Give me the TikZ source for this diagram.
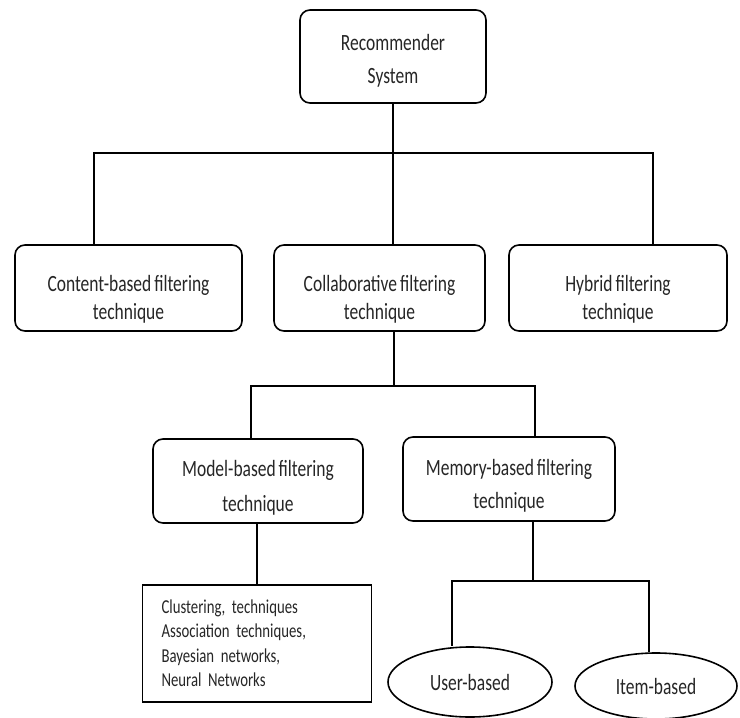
\documentclass[tikz,border=0pt]{standalone}
\usepackage{fontspec}
\setmainfont{Carlito}[FakeStretch=0.75,WordSpace=0.75]
\usetikzlibrary{shapes.geometric}
\frenchspacing
\newcommand{\topstrut}[1]{\rule{0pt}{#1pt}}
\newcommand{\botstrut}[1]{\rule[-#1pt]{0pt}{#1pt}}
\begin{document}
\begin{tikzpicture}[x=1pt,y=-1pt,
  box/.style={draw, line width=1.6pt, rounded corners=10pt, fill=white, inner sep=0pt, align=center, text=black!85},
  listbox/.style={draw, line width=1.6pt, fill=white, inner ysep=0pt, inner xsep=19pt, text width=191pt, align=left, font=\fontsize{19.7}{24.5}\selectfont, text=black!85},
  oval/.style={draw, ellipse, line width=1.6pt, fill=white, inner sep=0pt, font=\fontsize{23.3}{28}\selectfont, text=black!85},
  link/.style={line width=1.6pt}]
\useasboundingbox (0,0) rectangle (740,718);
\fill[white] (0,0) rectangle (740,718);

\node[box, minimum width=186pt, minimum height=93pt, font=\fontsize{23.3}{33}\selectfont] (rec) at (393,56.5) {\topstrut{30}Recommender\\System\botstrut{10}};
\node[box, minimum width=227pt, minimum height=86pt, font=\fontsize{23.3}{28}\selectfont] (content) at (128.5,288) {\topstrut{44}Content-based filtering\\technique\botstrut{10}};
\node[box, minimum width=211pt, minimum height=86pt, font=\fontsize{23.3}{28}\selectfont] (collab) at (379.5,288) {\topstrut{44}Collaborative filtering\\technique\botstrut{10}};
\node[box, minimum width=218pt, minimum height=86pt, font=\fontsize{23.3}{28}\selectfont] (hybrid) at (618,288) {\topstrut{44}Hybrid filtering\\technique\botstrut{10}};
\node[box, minimum width=210pt, minimum height=84pt, font=\fontsize{23.3}{35}\selectfont] (model) at (258,481) {\topstrut{35}Model-based filtering\\technique\botstrut{10}};
\node[box, minimum width=212pt, minimum height=84pt, font=\fontsize{23.3}{33}\selectfont] (memory) at (509,479) {\topstrut{35}Memory-based filtering\\technique\botstrut{10}};
\node[listbox, minimum width=229pt, minimum height=117pt] (list) at (257,643.5) {\topstrut{22.5}Clustering, techniques\\Association techniques,\\Bayesian networks,\\Neural Networks\botstrut{10}};
\node[oval, minimum width=164pt, minimum height=70pt] (user) at (470,682) {User-based};
\node[oval, minimum width=162pt, minimum height=66pt] (item) at (656,686) {Item-based};

\coordinate (c1) at (94,153);
\coordinate (c3) at (653,153);
\draw[link] (rec.south) -- (collab.north -| rec.south);
\draw[link] (content.north -| c1) -- (c1) -- (c3) -- (hybrid.north -| c3);

\coordinate (cb) at (394,386);
\coordinate (m1) at (251,386);
\coordinate (m2) at (535,386);
\draw[link] (collab.south -| cb) -- (cb);
\draw[link] (model.north -| m1) -- (m1) -- (m2) -- (memory.north -| m2);
\draw[link] (model.south -| list.north) -- (list.north);

\coordinate (mb) at (533,581);
\coordinate (u1) at (452,581);
\coordinate (u2) at (649,581);
\draw[link] (memory.south -| mb) -- (mb);
\draw[link] (user.north -| u1) -- (u1) -- (u2) -- (item.north -| u2);
\end{tikzpicture}
\end{document}
